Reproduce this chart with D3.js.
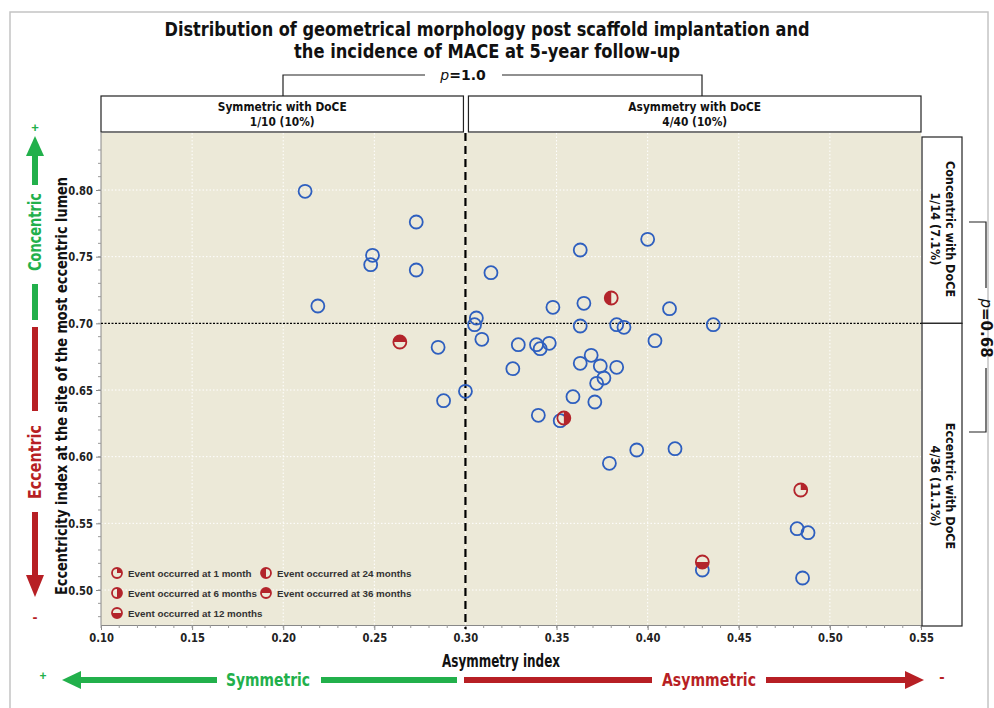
<!DOCTYPE html>
<html>
<head>
<meta charset="utf-8">
<script src="https://cdn.jsdelivr.net/npm/d3@7"></script>
<style>
  body { margin: 0; background: #fff; }
  svg { display: block; }
  .narrow { font-family: "DejaVu Sans", "Liberation Sans", sans-serif; }
</style>
</head>
<body>
<div id="chart"></div>
<script>
// asymmetry index (x) and eccentricity index (y), one entry per patient
const asymmetry = [
  0.212, 0.273, 0.249, 0.248, 0.273, 0.219, 0.264, 0.285, 0.288, 0.300,
  0.306, 0.305, 0.309, 0.314, 0.326, 0.329, 0.339, 0.341, 0.346, 0.340,
  0.348, 0.352, 0.354, 0.363, 0.365, 0.380, 0.363, 0.363, 0.369, 0.374,
  0.372, 0.376, 0.371, 0.383, 0.359, 0.383, 0.387, 0.379, 0.394, 0.400,
  0.412, 0.404, 0.415, 0.436, 0.430, 0.430, 0.484, 0.482, 0.488, 0.485
];
const eccentricity = [
  0.799, 0.776, 0.751, 0.744, 0.740, 0.713, 0.686, 0.682, 0.642, 0.649,
  0.704, 0.699, 0.688, 0.738, 0.666, 0.684, 0.684, 0.681, 0.685, 0.631,
  0.712, 0.627, 0.629, 0.755, 0.715, 0.719, 0.698, 0.670, 0.676, 0.668,
  0.655, 0.659, 0.641, 0.667, 0.645, 0.699, 0.697, 0.595, 0.605, 0.763,
  0.711, 0.687, 0.606, 0.699, 0.515, 0.521, 0.575, 0.546, 0.543, 0.509
];
// month of MACE event, null when no event
const eventMonth = [
  null, null, null, null, null, null, 36, null, null, null,
  null, null, null, null, null, null, null, null, null, null,
  null, null, 6, null, null, 24, null, null, null, null,
  null, null, null, null, null, null, null, null, null, null,
  null, null, null, null, null, 12, 1, null, null, null
];

const xTicks = [0.10, 0.15, 0.20, 0.25, 0.30, 0.35, 0.40, 0.45, 0.50, 0.55];
const yTicks = [0.50, 0.55, 0.60, 0.65, 0.70, 0.75, 0.80];
const legendMonths = [1, 24, 6, 36, 12];
const legendLabels = ['Event occurred at 1 month', 'Event occurred at 24 months',
  'Event occurred at 6 months', 'Event occurred at 36 months', 'Event occurred at 12 months'];
const topBoxes = [['Symmetric with DoCE', '1/10 (10%)'], ['Asymmetry with DoCE', '4/40 (10%)']];
const sideBoxes = [['Concentric with DoCE', '1/14  (7.1%)'], ['Eccentric with DoCE', '4/36  (11.1%)']];
const xSplit = 0.30, ySplit = 0.70;

const W = 994, H = 708;
const blue = '#2e5fbf', red = '#b3242b', green = '#22b04b', redArrow = '#b71f24';
const plot = { left: 101, right: 921, top: 133, bottom: 625 };

const x = d3.scaleLinear().domain([0.10, 0.55]).range([plot.left, plot.right]);
const y = d3.scaleLinear().domain([0.50, 0.80]).range([590, 190]);

const svg = d3.select('#chart').append('svg').attr('width', W).attr('height', H);

// squeeze text horizontally to mimic the narrow bold face of the original
function condense(sel, factor) {
  sel.each(function () {
    const len = this.getComputedTextLength();
    d3.select(this).attr('textLength', len * factor).attr('lengthAdjust', 'spacingAndGlyphs');
  });
  return sel;
}

// outer frame
svg.append('rect').attr('x', 10).attr('y', 12).attr('width', 978).attr('height', 720)
  .attr('fill', 'none').attr('stroke', '#c4c4c4').attr('stroke-width', 1.5);

// title
const title = svg.append('text').attr('class', 'narrow').attr('text-anchor', 'middle')
  .attr('font-weight', 'bold').attr('font-size', 20).attr('fill', '#111');
title.append('tspan').attr('x', 487).attr('y', 36)
  .text('Distribution of geometrical morphology post scaffold implantation and')
  .attr('textLength', 645).attr('lengthAdjust', 'spacingAndGlyphs');
title.append('tspan').attr('x', 487).attr('y', 58)
  .text('the incidence of MACE at 5-year follow-up')
  .attr('textLength', 386).attr('lengthAdjust', 'spacingAndGlyphs');

// plot background
svg.append('rect').attr('x', plot.left).attr('y', plot.top)
  .attr('width', plot.right - plot.left).attr('height', plot.bottom - plot.top)
  .attr('fill', '#ece9d8');

// grid
svg.append('g').selectAll('line').data(xTicks.slice(1, -1)).join('line')
  .attr('x1', d => x(d)).attr('x2', d => x(d)).attr('y1', plot.top).attr('y2', plot.bottom)
  .attr('stroke', '#fff').attr('stroke-width', 1).attr('stroke-dasharray', '1.5,2');
svg.append('g').selectAll('line').data(yTicks).join('line')
  .attr('x1', plot.left).attr('x2', plot.right).attr('y1', d => y(d)).attr('y2', d => y(d))
  .attr('stroke', '#fff').attr('stroke-width', 1).attr('stroke-dasharray', '1.5,2');

// axes
const xAxis = svg.append('g').attr('transform', `translate(0,${plot.bottom})`)
  .call(d3.axisBottom(x).tickValues(xTicks).tickFormat(d3.format('.2f')).tickSize(5));
const yAxis = svg.append('g').attr('transform', `translate(${plot.left},0)`)
  .call(d3.axisLeft(y).tickValues(yTicks).tickFormat(d3.format('.2f')).tickSize(5));
[xAxis, yAxis].forEach(g => {
  g.select('.domain').attr('stroke', '#888');
  g.selectAll('.tick line').attr('stroke', '#888');
  g.selectAll('.tick text').attr('class', 'narrow').attr('font-size', 12.5)
    .attr('font-weight', 'bold').attr('fill', '#222');
  condense(g.selectAll('.tick text'), 0.8);
});
yAxis.select('.domain').attr('d', `M0,${plot.top}V${plot.bottom}`);
const minorX = d3.range(10, 56).map(v => v / 100);
const minorY = d3.range(48, 84).map(v => v / 100);
svg.append('g').selectAll('line').data(minorX).join('line')
  .attr('x1', d => x(d)).attr('x2', d => x(d)).attr('y1', plot.bottom).attr('y2', plot.bottom + 3)
  .attr('stroke', '#999');
svg.append('g').selectAll('line').data(minorY).join('line')
  .attr('x1', plot.left - 3).attr('x2', plot.left).attr('y1', d => y(d)).attr('y2', d => y(d))
  .attr('stroke', '#999');

// split lines
svg.append('line').attr('x1', x(xSplit)).attr('x2', x(xSplit)).attr('y1', plot.top).attr('y2', plot.bottom + 4)
  .attr('stroke', '#000').attr('stroke-width', 2.2).attr('stroke-dasharray', '8,5');
svg.append('line').attr('x1', plot.left).attr('x2', 962).attr('y1', y(ySplit)).attr('y2', y(ySplit))
  .attr('stroke', '#000').attr('stroke-width', 1.2).attr('stroke-dasharray', '2,1.5');

// axis titles
svg.append('text').attr('class', 'narrow').attr('x', 501).attr('y', 667).attr('text-anchor', 'middle')
  .attr('font-weight', 'bold').attr('font-size', 17).attr('fill', '#111').text('Asymmetry index')
  .attr('textLength', 118).attr('lengthAdjust', 'spacingAndGlyphs');
svg.append('text').attr('class', 'narrow').attr('transform', 'translate(67,386) rotate(-90)')
  .attr('text-anchor', 'middle').attr('font-weight', 'bold').attr('font-size', 15.5).attr('fill', '#111')
  .text('Eccentricity index at the site of the most eccentric lumen')
  .attr('textLength', 418).attr('lengthAdjust', 'spacingAndGlyphs');

// top boxes and p-value bracket
const topBoxX = [[plot.left, x(xSplit) - 2], [x(xSplit) + 3, plot.right]];
topBoxX.forEach((b, i) => {
  svg.append('rect').attr('x', b[0]).attr('y', 96).attr('width', b[1] - b[0]).attr('height', 36)
    .attr('fill', '#fff').attr('stroke', '#222').attr('stroke-width', 1.2);
  const t = svg.append('text').attr('class', 'narrow').attr('text-anchor', 'middle')
    .attr('font-weight', 'bold').attr('font-size', 12.5).attr('fill', '#111');
  t.append('tspan').attr('x', (b[0] + b[1]) / 2).attr('y', 111).text(topBoxes[i][0]);
  t.append('tspan').attr('x', (b[0] + b[1]) / 2).attr('y', 126).text(topBoxes[i][1]);
  condense(t.selectAll('tspan'), 0.85);
});
svg.append('path').attr('d', 'M283,96V75H425M502,75H702V96')
  .attr('fill', 'none').attr('stroke', '#222').attr('stroke-width', 1.2);
const p1 = svg.append('text').attr('class', 'narrow').attr('x', 463).attr('y', 80)
  .attr('text-anchor', 'middle').attr('font-size', 14).attr('fill', '#111');
p1.append('tspan').attr('font-style', 'italic').text('p');
p1.append('tspan').attr('font-weight', 'bold').text('=1.0');

// side boxes and p-value bracket
const sideBoxY = [[137, y(ySplit)], [y(ySplit), 626]];
const sideTextY = [229, 486];
sideBoxY.forEach((b, i) => {
  svg.append('rect').attr('x', 922).attr('y', b[0]).attr('width', 40).attr('height', b[1] - b[0])
    .attr('fill', '#fff').attr('stroke', '#222').attr('stroke-width', 1.2);
  const t = svg.append('text').attr('class', 'narrow').attr('transform', `translate(942,${sideTextY[i]}) rotate(90)`)
    .attr('text-anchor', 'middle').attr('font-weight', 'bold').attr('font-size', 12.5).attr('fill', '#111');
  t.append('tspan').attr('x', 0).attr('y', -4).text(sideBoxes[i][0]);
  t.append('tspan').attr('x', 0).attr('y', 11).text(sideBoxes[i][1]);
  condense(t.selectAll('tspan'), 0.9);
});
svg.append('path').attr('d', 'M969,222H986V288M986,368V432H969')
  .attr('fill', 'none').attr('stroke', '#222').attr('stroke-width', 1.2);
const p2 = svg.append('text').attr('class', 'narrow').attr('transform', 'translate(981,328) rotate(90)')
  .attr('text-anchor', 'middle').attr('font-size', 15).attr('fill', '#111');
p2.append('tspan').attr('font-style', 'italic').text('p');
p2.append('tspan').attr('font-weight', 'bold').text('=0.68');

// event marker wedge angles (d3.arc: 0 at 12 o'clock, clockwise)
const wedge = {
  1: [0, Math.PI / 2],
  6: [0, Math.PI],
  12: [Math.PI / 2, 3 * Math.PI / 2],
  24: [Math.PI, 2 * Math.PI],
  36: [-Math.PI / 2, Math.PI / 2]
};
function eventMarker(g, cx, cy, month, r) {
  const [a0, a1] = wedge[month];
  g.append('path').attr('transform', `translate(${cx},${cy})`)
    .attr('d', d3.arc()({ innerRadius: 0, outerRadius: r, startAngle: a0, endAngle: a1 }))
    .attr('fill', red);
  g.append('circle').attr('cx', cx).attr('cy', cy).attr('r', r)
    .attr('fill', 'none').attr('stroke', red).attr('stroke-width', 1.8);
}

// points
const pts = svg.append('g');
const idx = d3.range(asymmetry.length);
idx.filter(i => eventMonth[i] === null).forEach(i => {
  pts.append('circle').attr('cx', x(asymmetry[i])).attr('cy', y(eccentricity[i])).attr('r', 6.5)
    .attr('fill', 'none').attr('stroke', blue).attr('stroke-width', 1.8);
});
idx.filter(i => eventMonth[i] !== null).forEach(i => {
  eventMarker(pts, x(asymmetry[i]), y(eccentricity[i]), eventMonth[i], 6.5);
});

// legend
const leg = svg.append('g');
legendMonths.forEach((m, i) => {
  const lx = 117 + (i % 2) * 149, ly = 573 + Math.floor(i / 2) * 20;
  eventMarker(leg, lx, ly, m, 5);
  leg.append('text').attr('x', lx + 11).attr('y', ly + 3.5)
    .attr('font-family', 'Liberation Sans, Arial, sans-serif').attr('font-weight', 'bold')
    .attr('font-size', 9.8).attr('fill', '#333').text(legendLabels[i]);
});

// direction arrows: vertical (left) and horizontal (bottom)
function arrowHead(points, color) {
  svg.append('polygon').attr('points', points.map(p => p.join(',')).join(' ')).attr('fill', color);
}
function bar(x0, y0, w, h, color) {
  svg.append('rect').attr('x', x0).attr('y', y0).attr('width', w).attr('height', h).attr('fill', color);
}
// vertical
arrowHead([[35, 136], [26, 156], [44, 156]], green);
bar(32, 155, 6, 30, green);
bar(32, 284, 6, 36, green);
bar(32, 327, 6, 84, redArrow);
bar(32, 512, 6, 64, redArrow);
arrowHead([[35, 597], [26, 575], [44, 575]], redArrow);
svg.append('text').attr('class', 'narrow').attr('transform', 'translate(41,232) rotate(-90)')
  .attr('text-anchor', 'middle').attr('font-weight', 'bold').attr('font-size', 18).attr('fill', green)
  .text('Concentric').attr('textLength', 78).attr('lengthAdjust', 'spacingAndGlyphs');
svg.append('text').attr('class', 'narrow').attr('transform', 'translate(41,462) rotate(-90)')
  .attr('text-anchor', 'middle').attr('font-weight', 'bold').attr('font-size', 18).attr('fill', redArrow)
  .text('Eccentric').attr('textLength', 74).attr('lengthAdjust', 'spacingAndGlyphs');
svg.append('text').attr('x', 35).attr('y', 132).attr('text-anchor', 'middle')
  .attr('font-family', 'Liberation Sans, Arial').attr('font-weight', 'bold').attr('font-size', 13).attr('fill', green).text('+');
svg.append('text').attr('x', 35).attr('y', 622).attr('text-anchor', 'middle')
  .attr('font-family', 'Liberation Sans, Arial').attr('font-weight', 'bold').attr('font-size', 15).attr('fill', redArrow).text('-');
// horizontal
arrowHead([[62, 680], [81, 671], [81, 689]], green);
bar(80, 677, 137, 6, green);
bar(321, 677, 136, 6, green);
bar(464, 677, 188, 6, redArrow);
bar(766, 677, 140, 6, redArrow);
arrowHead([[924, 680], [905, 671], [905, 689]], redArrow);
svg.append('text').attr('class', 'narrow').attr('x', 268).attr('y', 686).attr('text-anchor', 'middle')
  .attr('font-weight', 'bold').attr('font-size', 18).attr('fill', green)
  .text('Symmetric').attr('textLength', 84).attr('lengthAdjust', 'spacingAndGlyphs');
svg.append('text').attr('class', 'narrow').attr('x', 709).attr('y', 686).attr('text-anchor', 'middle')
  .attr('font-weight', 'bold').attr('font-size', 18).attr('fill', redArrow)
  .text('Asymmetric').attr('textLength', 94).attr('lengthAdjust', 'spacingAndGlyphs');
svg.append('text').attr('x', 43).attr('y', 680).attr('text-anchor', 'middle')
  .attr('font-family', 'Liberation Sans, Arial').attr('font-weight', 'bold').attr('font-size', 12).attr('fill', green).text('+');
svg.append('text').attr('x', 942).attr('y', 682).attr('text-anchor', 'middle')
  .attr('font-family', 'Liberation Sans, Arial').attr('font-weight', 'bold').attr('font-size', 16).attr('fill', redArrow).text('-');
</script>
</body>
</html>
